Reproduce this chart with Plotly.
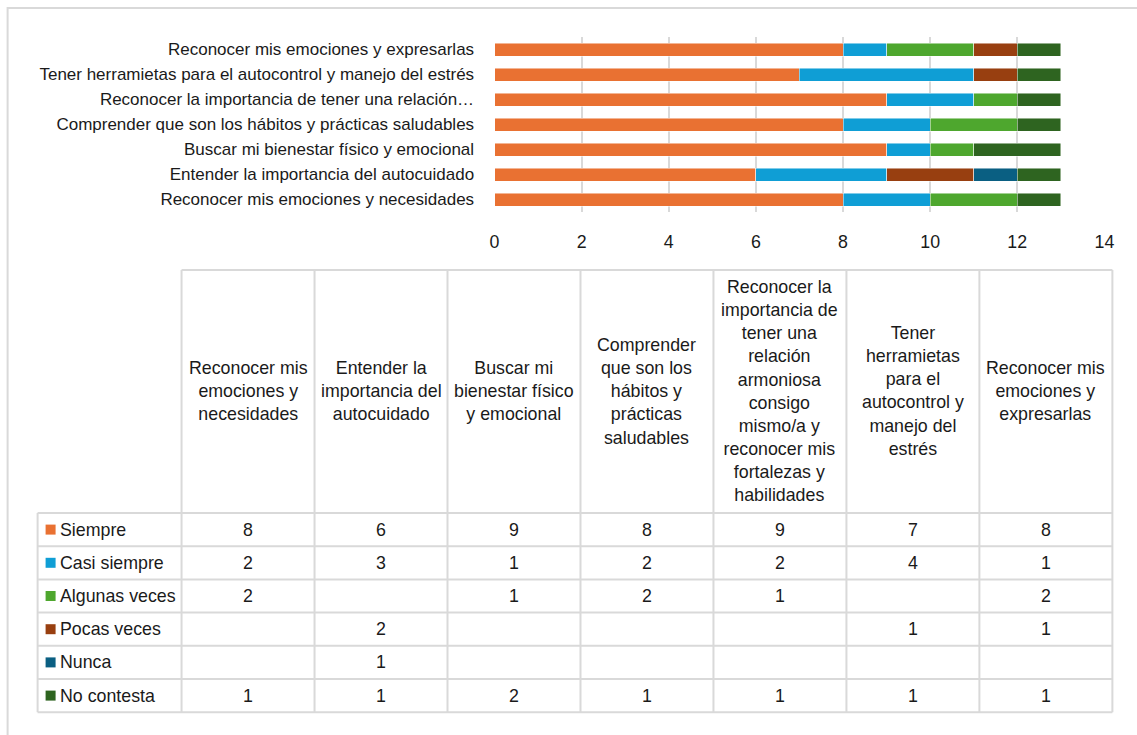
import plotly.graph_objects as go

# ---- data ----
categories = [
    "Reconocer mis emociones y necesidades",
    "Entender la importancia del autocuidado",
    "Buscar mi bienestar físico y emocional",
    "Comprender que son los hábitos y prácticas saludables",
    "Reconocer la importancia de tener una relación armoniosa consigo mismo/a y reconocer mis fortalezas y habilidades",
    "Tener herramietas para el autocontrol y manejo del estrés",
    "Reconocer mis emociones y expresarlas",
]
axis_labels = [
    "Reconocer mis emociones y necesidades",
    "Entender la importancia del autocuidado",
    "Buscar mi bienestar físico y emocional",
    "Comprender que son los hábitos y prácticas saludables",
    "Reconocer la importancia de tener una relación…",
    "Tener herramietas para el autocontrol y manejo del estrés",
    "Reconocer mis emociones y expresarlas",
]
header_labels = [
    "Reconocer mis<br>emociones y<br>necesidades",
    "Entender la<br>importancia del<br>autocuidado",
    "Buscar mi<br>bienestar físico<br>y emocional",
    "Comprender<br>que son los<br>hábitos y<br>prácticas<br>saludables",
    "Reconocer la<br>importancia de<br>tener una<br>relación<br>armoniosa<br>consigo<br>mismo/a y<br>reconocer mis<br>fortalezas y<br>habilidades",
    "Tener<br>herramietas<br>para el<br>autocontrol y<br>manejo del<br>estrés",
    "Reconocer mis<br>emociones y<br>expresarlas",
]
series_names = ["Siempre", "Casi siempre", "Algunas veces", "Pocas veces", "Nunca", "No contesta"]
siempre = [8, 6, 9, 8, 9, 7, 8]
casi_siempre = [2, 3, 1, 2, 2, 4, 1]
algunas_veces = [2, None, 1, 2, 1, None, 2]
pocas_veces = [None, 2, None, None, None, 1, 1]
nunca = [None, 1, None, None, None, None, None]
no_contesta = [1, 1, 2, 1, 1, 1, 1]
series_values = [siempre, casi_siempre, algunas_veces, pocas_veces, nunca, no_contesta]
colors = ["#E97132", "#0F9ED5", "#4EA72E", "#983F10", "#0A5F82", "#2E6420"]
x_ticks = [0, 2, 4, 6, 8, 10, 12, 14]

# ---- layout helpers (pixel -> paper) ----
W, H = 1137, 735
FONT = "Liberation Sans, Arial, sans-serif"
FS = 17
FS_T = 17.8
TXT = "#1a1a1a"
GRID = "#d9d9d9"
SX, OX = 0.987, 5.4   # horizontal correction of the captured page


def px(x):
    return ((x - OX) / SX) / W


def py(y):
    return 1 - y / H


fig = go.Figure()
for name, vals, col in zip(series_names, series_values, colors):
    fig.add_trace(go.Bar(
        y=categories, x=vals, name=name, orientation="h",
        marker=dict(color=col, line=dict(color="rgba(255,255,255,0.6)", width=0.8)),
        showlegend=False, hoverinfo="x+y+name",
    ))

shapes = []
annotations = []

# outer frame
shapes.append(dict(type="rect", xref="paper", yref="paper",
                   x0=px(8), x1=px(1160), y0=py(750), y1=py(8),
                   line=dict(color=GRID, width=2), fillcolor="rgba(0,0,0,0)", layer="below"))

# table geometry
col_left = 182
col_w = 133
first_left = 38
head_top = 270
row_top = 513
row_h = 33.2
n_cols = len(categories)
n_rows = len(series_names)
right = col_left + col_w * n_cols
bottom = row_top + row_h * n_rows

line = dict(color=GRID, width=2)
shapes.append(dict(type="line", xref="paper", yref="paper", x0=px(col_left), x1=px(right),
                   y0=py(head_top), y1=py(head_top), line=line))
for i in range(n_cols + 1):
    xx = col_left + col_w * i
    shapes.append(dict(type="line", xref="paper", yref="paper", x0=px(xx), x1=px(xx),
                       y0=py(head_top), y1=py(bottom), line=line))
shapes.append(dict(type="line", xref="paper", yref="paper", x0=px(first_left), x1=px(first_left),
                   y0=py(row_top), y1=py(bottom), line=line))
for r in range(n_rows + 1):
    yy = row_top + row_h * r
    shapes.append(dict(type="line", xref="paper", yref="paper", x0=px(first_left), x1=px(right),
                       y0=py(yy), y1=py(yy), line=line))

for i, lab in enumerate(header_labels):
    annotations.append(dict(xref="paper", yref="paper",
                            x=px(col_left + col_w * (i + 0.5)), y=py((head_top + row_top) / 2),
                            text=lab, showarrow=False, xanchor="center", yanchor="middle",
                            align="center", font=dict(family=FONT, size=FS_T, color=TXT)))

for r, (name, vals, col) in enumerate(zip(series_names, series_values, colors)):
    cy = row_top + row_h * (r + 0.5)
    shapes.append(dict(type="rect", xref="paper", yref="paper",
                       x0=px(46), x1=px(56), y0=py(cy + 5), y1=py(cy - 5),
                       fillcolor=col, line=dict(width=0)))
    annotations.append(dict(xref="paper", yref="paper", x=px(58), y=py(cy), text=name,
                            showarrow=False, xanchor="left", yanchor="middle",
                            font=dict(family=FONT, size=FS_T, color=TXT)))
    for i, v in enumerate(vals):
        if v is None:
            continue
        annotations.append(dict(xref="paper", yref="paper",
                                x=px(col_left + col_w * (i + 0.5)), y=py(cy), text=str(v),
                                showarrow=False, xanchor="center", yanchor="middle",
                                font=dict(family=FONT, size=FS_T, color=TXT)))

fig.update_layout(
    width=W, height=H,
    margin=dict(l=0, r=0, t=0, b=0),
    paper_bgcolor="white", plot_bgcolor="white",
    barmode="stack", bargap=0.48,
    font=dict(family=FONT, size=FS, color=TXT),
    xaxis=dict(domain=[px(495), px(1105)], range=[0, 14], tickvals=x_ticks,
               showgrid=True, gridcolor=GRID, gridwidth=2, zeroline=False,
               showline=False, ticks="outside", ticklen=14, tickcolor="rgba(0,0,0,0)",
               tickfont=dict(family=FONT, size=FS_T, color=TXT), anchor="y", fixedrange=True),
    yaxis=dict(domain=[py(212), py(37)], categoryorder="array", categoryarray=categories,
               tickvals=categories, ticktext=axis_labels,
               showgrid=False, showline=False, ticks="outside", ticklen=16,
               tickcolor="rgba(0,0,0,0)", tickfont=dict(family=FONT, size=FS, color=TXT),
               anchor="x", fixedrange=True),
    shapes=shapes, annotations=annotations,
)

fig.write_html("out.html", config={"displayModeBar": False},
               post_script="document.body.style.margin='0';document.body.style.overflow='hidden';")
